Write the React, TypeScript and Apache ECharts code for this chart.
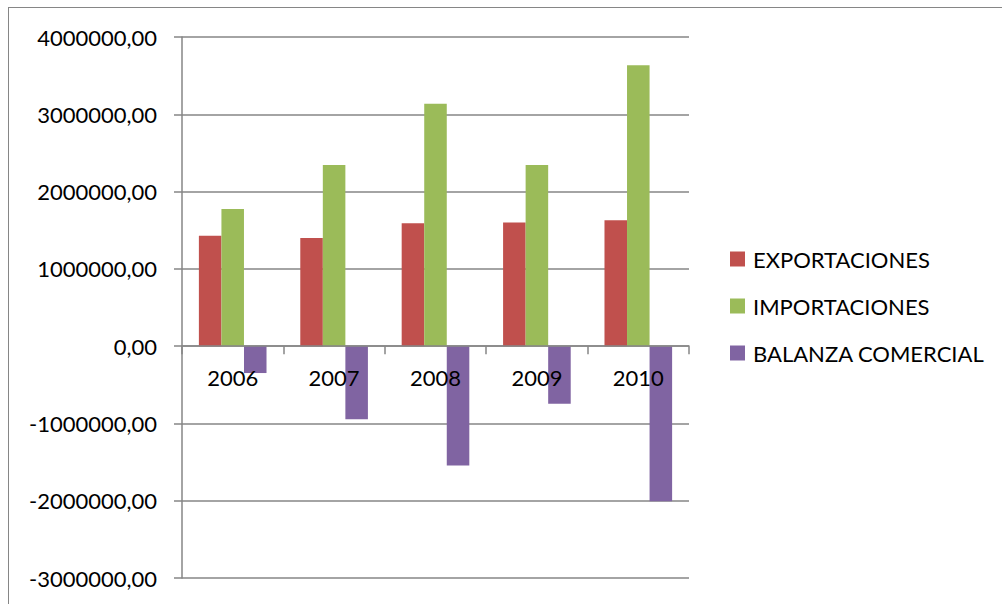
import React, { useEffect, useRef } from "react";
import * as echarts from "echarts";

const categories = ["2006", "2007", "2008", "2009", "2010"];
const exportaciones = [1427000, 1400000, 1591000, 1600000, 1630000];
const importaciones = [1775000, 2345000, 3135000, 2345000, 3636000];
const balanza = [-348000, -945000, -1544000, -745000, -2006000];
const seriesNames = ["EXPORTACIONES", "IMPORTACIONES", "BALANZA COMERCIAL"];
const colors = ["#C0504D", "#9BBB59", "#8064A2"];
const yMin = -3000000;
const yMax = 4000000;

const FONT = "Lato, 'Open Sans', sans-serif";

export default function App() {
  const ref = useRef<HTMLDivElement>(null);
  useEffect(() => {
    if (!ref.current) return;
    const chart = echarts.init(ref.current, undefined, { renderer: "svg" });
    const grey = "#868686";
    const gridHeight = 541;
    const zeroOffset = -(gridHeight * (0 - yMin)) / (yMax - yMin);
    chart.setOption({
      animation: false,
      textStyle: { fontFamily: FONT },
      grid: { left: 173, top: 29, width: 507, height: gridHeight, containLabel: false, outerBoundsMode: "none" },
      legend: {
        orient: "vertical",
        left: 716,
        top: 235,
        itemWidth: 15,
        itemHeight: 15,
        itemGap: 25,
        icon: "rect",
        data: seriesNames,
        textStyle: { fontFamily: FONT, fontSize: 22, color: "#000", lineHeight: 22, padding: [0, 0, 0, 3] },
      },
      xAxis: {
        type: "category",
        data: categories,
        position: "bottom",
        offset: zeroOffset,
        z: 10,
        axisLine: { onZero: false, lineStyle: { color: grey, width: 1.5 } },
        axisTick: { show: true, length: 8, inside: false, lineStyle: { color: grey, width: 1.5 } },
        axisLabel: { color: "#000", fontSize: 22, fontFamily: FONT, margin: 20 },
        splitLine: { show: false },
      },
      yAxis: {
        type: "value",
        min: yMin,
        max: yMax,
        interval: 1000000,
        axisLine: { show: true, lineStyle: { color: grey, width: 1.5 } },
        axisTick: { show: true, length: 8, inside: false, lineStyle: { color: grey, width: 1.5 } },
        axisLabel: {
          color: "#000",
          fontSize: 22,
          fontFamily: FONT,
          margin: 25,
          formatter: (v: number) => v.toFixed(2).replace(".", ","),
        },
        splitLine: { show: true, lineStyle: { color: grey, width: 1.5 } },
      },
      series: [
        { name: seriesNames[0], type: "bar", data: exportaciones, itemStyle: { color: colors[0] }, barGap: "0%", barCategoryGap: "33.3%" },
        { name: seriesNames[1], type: "bar", data: importaciones, itemStyle: { color: colors[1] }, barGap: "0%", barCategoryGap: "33.3%" },
        { name: seriesNames[2], type: "bar", data: balanza, itemStyle: { color: colors[2] }, barGap: "0%", barCategoryGap: "33.3%" },
      ],
    });
    return () => chart.dispose();
  }, []);

  return (
    <div style={{ position: "fixed", left: 0, top: 0, right: 0, bottom: 0, overflow: "hidden", background: "#fff" }}>
      <div
        style={{
          position: "absolute",
          left: 8,
          top: 7,
          width: 1000,
          height: 620,
          border: "1px solid #868686",
          background: "#fff",
        }}
      >
        <div ref={ref} style={{ width: 993, height: 597 }} />
      </div>
    </div>
  );
}
